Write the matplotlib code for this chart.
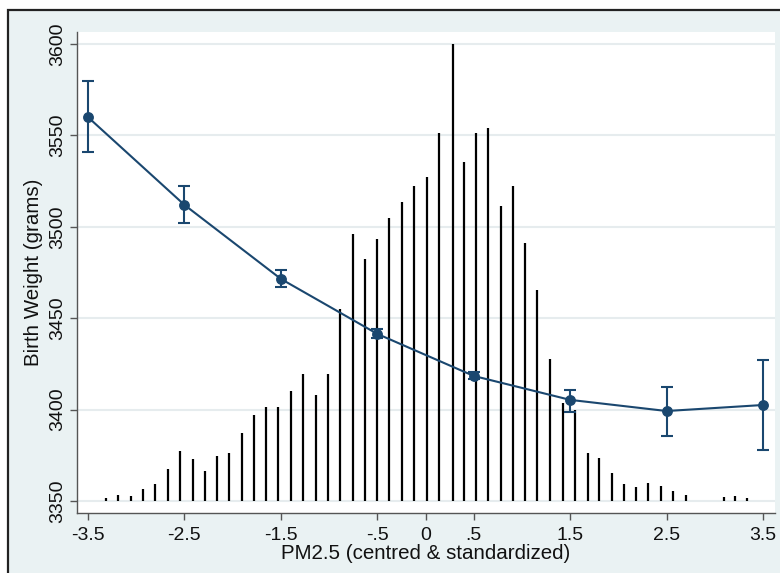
import numpy as np
import matplotlib
matplotlib.use("Agg")
import matplotlib.pyplot as plt
from matplotlib.patches import Rectangle

plt.rcParams['font.family'] = ['Liberation Sans', 'DejaVu Sans']

# histogram of PM2.5 exposure, drawn as spikes rising from the 3350 g baseline
spike_x = [-3.31, -3.19, -3.05, -2.93, -2.81, -2.67, -2.55, -2.41, -2.29, -2.16,
           -2.04, -1.90, -1.78, -1.65, -1.53, -1.40, -1.27, -1.14, -1.01, -0.89,
           -0.75, -0.63, -0.50, -0.38, -0.24, -0.12, 0.02, 0.14, 0.28, 0.40,
           0.52, 0.65, 0.78, 0.91, 1.03, 1.16, 1.29, 1.43, 1.55, 1.68,
           1.80, 1.93, 2.06, 2.18, 2.31, 2.44, 2.57, 2.70, 3.09, 3.21, 3.33]
spike_top = [3351.6, 3353.3, 3352.7, 3356.6, 3359.3, 3367.5, 3377.4, 3373.0, 3366.4, 3374.6,
             3376.3, 3387.2, 3397.0, 3401.4, 3401.4, 3410.2, 3419.5, 3408.0, 3419.5, 3455.0,
             3496.1, 3482.4, 3493.3, 3504.8, 3513.6, 3522.3, 3527.2, 3551.3, 3600.0, 3535.4,
             3551.3, 3554.0, 3511.4, 3522.3, 3491.1, 3465.4, 3427.7, 3403.6, 3399.8, 3376.3,
             3373.5, 3365.3, 3359.3, 3357.7, 3359.8, 3358.2, 3355.5, 3353.3, 3352.2, 3352.7, 3351.6]
spike_base = 3350

# predicted birth weight with 95% CI
pm_x = [-3.5, -2.5, -1.5, -0.5, 0.5, 1.5, 2.5, 3.5]
bw = [3560.0, 3512.0, 3471.5, 3441.4, 3418.4, 3405.3, 3399.2, 3402.5]
bw_lo = [3541.0, 3502.0, 3467.0, 3439.0, 3416.5, 3398.7, 3385.6, 3378.0]
bw_hi = [3579.7, 3522.3, 3476.5, 3444.0, 3420.5, 3410.7, 3412.4, 3427.0]

xticks = [-3.5, -2.5, -1.5, -0.5, 0, 0.5, 1.5, 2.5, 3.5]
xticklabels = ["-3.5", "-2.5", "-1.5", "-.5", "0", ".5", "1.5", "2.5", "3.5"]
yticks = [3350, 3400, 3450, 3500, 3550, 3600]

navy = '#1a476f'
bg = '#eaf2f3'

fig = plt.figure(figsize=(7.8, 5.73), dpi=100)
fig.patch.set_facecolor('white')
frame = Rectangle((8 / 780, -0.05), 1.1, (573 - 10) / 573 + 0.05,
                  transform=fig.transFigure, facecolor=bg, edgecolor='#222222',
                  lw=1.6, zorder=-1, clip_on=False)
fig.patches.append(frame)

ax = fig.add_axes([77 / 780, 60 / 573, 698 / 780, 481 / 573])
ax.set_facecolor('white')

ax.vlines(spike_x, spike_base, spike_top, color='black', lw=1.6, zorder=2)

lo_err = np.array(bw) - np.array(bw_lo)
hi_err = np.array(bw_hi) - np.array(bw)
ax.errorbar(pm_x, bw, yerr=[lo_err, hi_err], fmt='none', ecolor=navy,
            elinewidth=1.5, capsize=4, capthick=1.5, zorder=3)
ax.plot(pm_x, bw, color=navy, lw=1.5, marker='o', markersize=6.8, zorder=4)

ax.set_xlim(-3.614, 3.624)
ax.set_ylim(3343.4, 3606.6)
ax.set_xticks(xticks)
ax.set_xticklabels(xticklabels)
ax.set_yticks(yticks)
ax.set_yticklabels([str(v) for v in yticks], rotation=90, va='center')
ax.tick_params(axis='both', direction='out', length=5, width=1, color='#555555',
               labelsize=14, labelcolor='#111111')
ax.tick_params(axis='y', pad=3)
ax.tick_params(axis='x', pad=5)
ax.grid(axis='y', color='#e6ecee', lw=1.5, zorder=0)
ax.set_axisbelow(True)

for side in ['top', 'right']:
    ax.spines[side].set_visible(False)
for side in ['left', 'bottom']:
    ax.spines[side].set_color('#555555')
    ax.spines[side].set_linewidth(1.0)

ax.set_xlabel("PM2.5 (centred & standardized)", fontsize=14.8, color='#111111', labelpad=0)
ax.set_ylabel("Birth Weight (grams)", fontsize=14.8, color='#111111', labelpad=4)

fig.savefig("out.png", dpi=100)
